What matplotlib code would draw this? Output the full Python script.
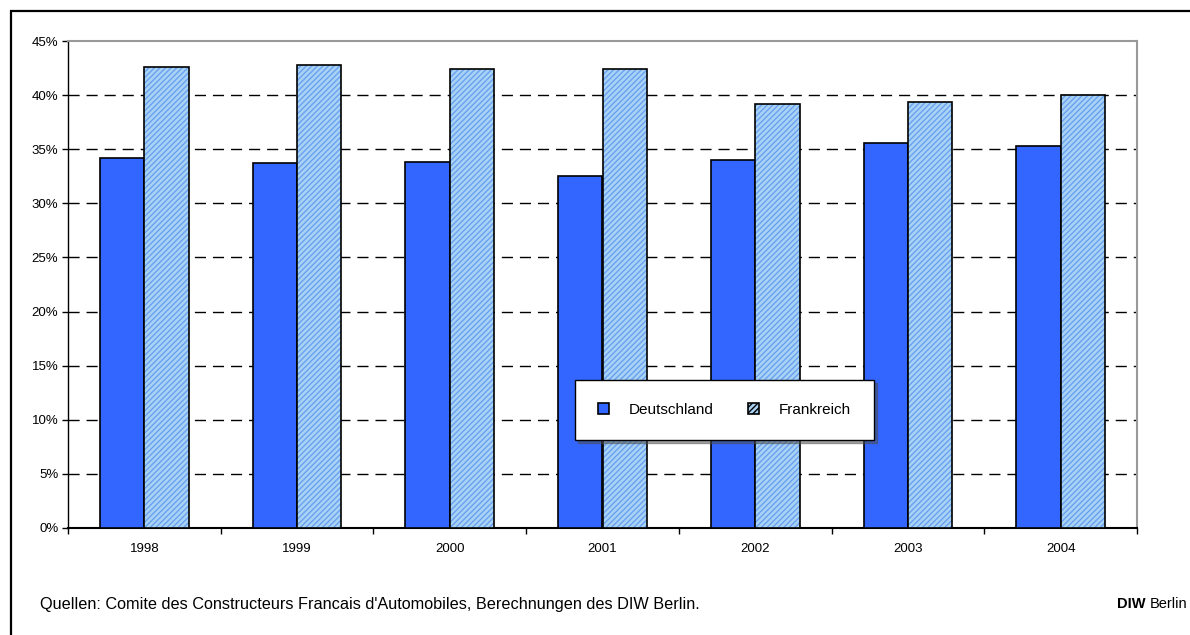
import numpy as np
import matplotlib.pyplot as plt
from matplotlib.patches import Rectangle, Patch
from matplotlib.ticker import FuncFormatter, MultipleLocator

plt.rcParams['font.family'] = ['Liberation Sans', 'DejaVu Sans']

# Daten
jahre = ['1998', '1999', '2000', '2001', '2002', '2003', '2004']
deutschland = [34.2, 33.7, 33.8, 32.5, 34.0, 35.6, 35.3]
frankreich = [42.6, 42.8, 42.4, 42.4, 39.2, 39.4, 40.0]
serien = ['Deutschland', 'Frankreich']
quelle = "Quellen: Comite des Constructeurs Francais d'Automobiles, Berechnungen des DIW Berlin."

W, H = 1190, 635
fig = plt.figure(figsize=(W / 100, H / 100), dpi=100)
ax = fig.add_axes([68 / W, 1 - 528 / H, (1137 - 68) / W, (528 - 41) / H])

x = np.arange(len(jahre))
bw = 0.29
blau = '#3366ff'
hell = '#a9d3f5'

# Deutschland
ax.bar(x - bw / 2, deutschland, bw, color=blau, edgecolor='black', linewidth=1.2, zorder=3)
# Frankreich: Muster + Umriss getrennt
ax.bar(x + bw / 2, frankreich, bw, color=hell, edgecolor='#6aa0f0', hatch='//////',
       linewidth=0, zorder=3)
ax.bar(x + bw / 2, frankreich, bw, fill=False, edgecolor='black', linewidth=1.2, zorder=4)

ax.set_xlim(-0.5, len(jahre) - 0.5)
ax.set_ylim(0, 45)
ax.yaxis.set_major_locator(MultipleLocator(5))
ax.yaxis.set_major_formatter(FuncFormatter(lambda v, p: f'{v:.0f}%'))
ax.set_xticks(x)
ax.set_xticklabels(jahre)
ax.set_xticks(np.arange(len(jahre) + 1) - 0.5, minor=True)
ax.tick_params(axis='x', which='major', length=0, labelsize=9.5, pad=11)
ax.tick_params(axis='x', which='minor', length=4, width=1, direction='out')
ax.tick_params(axis='y', length=4, width=1, labelsize=9.5, pad=3)

for v in range(5, 45, 5):
    ax.axhline(v, color='black', linewidth=1, dashes=(8, 5), zorder=1)

ax.spines['top'].set_color('#999999')
ax.spines['right'].set_color('#999999')
ax.spines['top'].set_linewidth(1.5)
ax.spines['right'].set_linewidth(1.5)
ax.spines['left'].set_linewidth(1)
ax.spines['bottom'].set_linewidth(1.5)

handles = [Patch(facecolor=blau, edgecolor='black', linewidth=1.2),
           Patch(facecolor=hell, edgecolor='black', linewidth=1.2, hatch='//////')]
leg = fig.legend(handles, serien, loc='center', ncol=2, mode='expand',
                 bbox_to_anchor=(575 / W, 1 - 442 / H, 299 / W, 64 / H),
                 fontsize=11, frameon=True, fancybox=False, shadow=True,
                 handlelength=0.75, handleheight=0.75, handletextpad=1.3,
                 borderpad=1.5, borderaxespad=0)
leg.get_frame().set_edgecolor('black')
leg.get_frame().set_linewidth(1)
leg.set_zorder(10)

# Rahmen
fig.patches.append(Rectangle((11 / W, -0.05), 1.2, 1 - 11 / H + 0.05, transform=fig.transFigure,
                             fill=False, edgecolor='black', linewidth=1.6))

fig.text(40 / W, 1 - 604 / H, quelle, fontsize=11.7, va='center', ha='left')
berlin = fig.text(1187 / W, 1 - 604 / H, 'Berlin', fontsize=10.5, va='center', ha='right')
fig.add_artist(plt.Annotation('DIW ', xy=(0, 0.5), xycoords=berlin, fontsize=10.5,
                              fontweight='bold', va='center', ha='right'))

fig.savefig('out.png', dpi=100)
